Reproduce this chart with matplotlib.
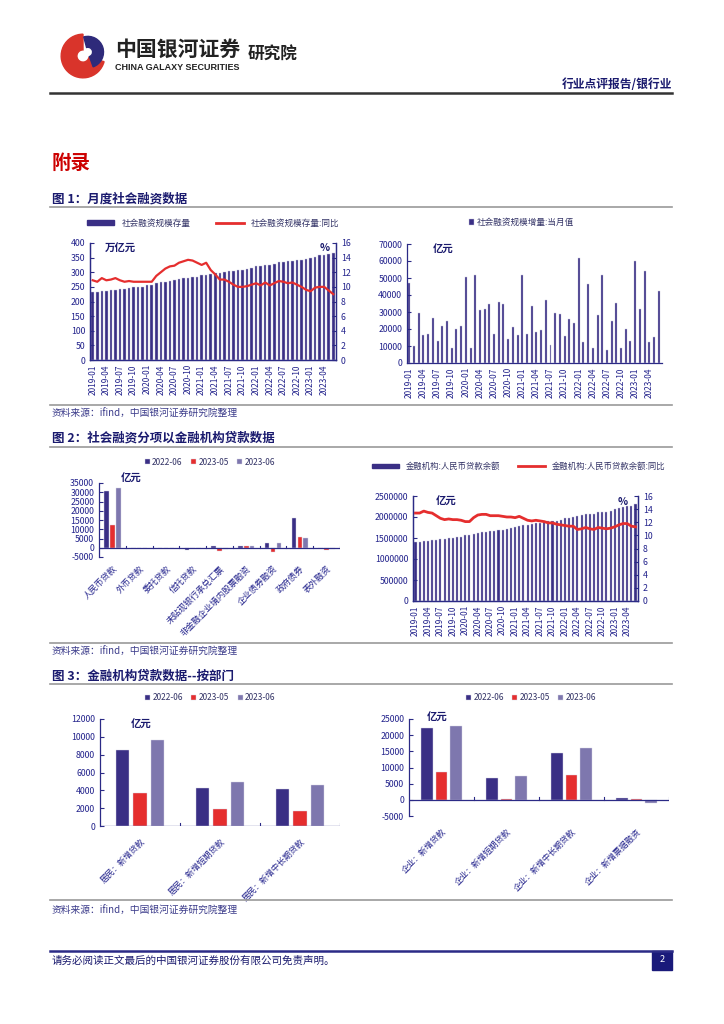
import numpy as np
import matplotlib
matplotlib.use('Agg')
import matplotlib.pyplot as plt
from matplotlib.patches import Rectangle, Wedge
from matplotlib.lines import Line2D

plt.rcParams['font.family'] = ['Noto Sans CJK SC', 'DejaVu Sans']
plt.rcParams['axes.unicode_minus'] = False

W, H = 724, 1024
NAVY = '#2B2A86'
DARK = '#3A2F85'
RED = '#E52E2E'
LILAC = '#7E77AE'
TXT = '#23238C'
TITLE = '#1A1A6E'

# ---------------- data ----------------
months = [f'{y}-{m:02d}' for y in range(2019, 2024) for m in range(1, 13)][:54]

# 社会融资规模存量 (万亿元) and 同比 (%)
sf_stock = [231, 233, 236, 237, 238, 241, 242, 244, 247, 248, 250, 251,
            256, 257, 262, 265, 268, 271, 273, 276, 279, 280, 283, 285,
            289, 290, 293, 296, 298, 302, 303, 304, 307, 308, 311, 314,
            320, 321, 325, 326, 328, 334, 335, 337, 340, 341, 343, 344,
            350, 352, 359, 360, 361, 365]
sf_yoy = [10.9, 10.7, 11.2, 10.9, 11.0, 11.2, 10.9, 10.7, 10.8, 10.7, 10.7, 10.7,
          10.7, 10.7, 11.5, 12.0, 12.5, 12.8, 12.9, 13.3, 13.5, 13.7, 13.6, 13.3,
          13.0, 13.3, 12.3, 11.7, 11.0, 11.0, 10.7, 10.3, 10.0, 10.0, 10.1, 10.3,
          10.5, 10.2, 10.6, 10.2, 10.5, 10.8, 10.7, 10.5, 10.6, 10.3, 10.0, 9.6,
          9.4, 9.9, 10.0, 10.0, 9.5, 9.0]

# 社会融资规模增量:当月值 (亿元)
sf_flow = [47000, 9800, 29700, 16600, 17200, 26200, 12700, 21900, 25000, 8600, 20000, 21900,
           50700, 8600, 51800, 31100, 31900, 34600, 16800, 36000, 34800, 13900, 21300, 16400,
           52000, 17100, 33700, 18500, 19500, 37000, 10600, 29700, 29000, 16000, 26000, 23500,
           61700, 12200, 46500, 9100, 28400, 52000, 7900, 24600, 35300, 9100, 19900, 13100,
           59800, 31600, 53900, 12200, 15500, 42300]

# 社融分项 (亿元)
cats2 = ['人民币贷款', '外币贷款', '委托贷款', '信托贷款', '未贴现银行承兑汇票',
         '非金融企业境内股票融资', '企业债券融资', '政府债券', '表外融资']
s2_2206 = [30500, -100, -70, -1000, 1200, 700, 2500, 16300, 40]
s2_2305 = [12300, -320, -30, -60, -2000, 900, -2100, 5600, -1100]
s2_2306 = [32400, -220, -250, -30, -750, 750, 2300, 5400, -650]

# 金融机构:人民币贷款余额 (亿元) and 同比 (%)
loan_bal = [1399000, 1408000, 1425000, 1435000, 1447000, 1463000, 1470000, 1482000, 1498000, 1505000, 1519000, 1531000,
            1564000, 1573000, 1602000, 1619000, 1634000, 1652000, 1662000, 1676000, 1695000, 1702000, 1716000, 1727000,
            1763000, 1776000, 1804000, 1818000, 1834000, 1856000, 1865000, 1877000, 1894000, 1902000, 1915000, 1927000,
            1967000, 1979000, 2010000, 2017000, 2036000, 2064000, 2071000, 2083000, 2108000, 2114000, 2126000, 2140000,
            2189000, 2208000, 2247000, 2254000, 2267000, 2302000]
loan_yoy = [13.4, 13.4, 13.7, 13.5, 13.4, 13.0, 12.6, 12.4, 12.5, 12.4, 12.4, 12.3,
            12.1, 12.1, 12.7, 13.1, 13.2, 13.2, 13.0, 13.0, 13.0, 12.9, 12.8, 12.8,
            12.7, 12.9, 12.6, 12.3, 12.2, 12.3, 12.2, 12.1, 11.9, 11.9, 11.7, 11.6,
            11.5, 11.4, 11.4, 10.9, 11.0, 11.2, 11.0, 10.9, 11.2, 11.1, 11.0, 11.1,
            11.3, 11.6, 11.8, 11.8, 11.4, 11.3]

# 按部门 (亿元)
cats3a = ['居民：新增贷款', '居民：新增短期贷款', '居民：新增中长期贷款']
h_2206 = [8500, 4300, 4200]
h_2305 = [3700, 1950, 1700]
h_2306 = [9600, 4900, 4650]

cats3b = ['企业：新增贷款', '企业：新增短期贷款', '企业：新增中长期贷款', '企业：新增票据融资']
c_2206 = [22100, 6850, 14400, 700]
c_2305 = [8500, 400, 7700, 400]
c_2306 = [22700, 7500, 16000, -900]

series_names = ['2022-06', '2023-05', '2023-06']

# ---------------- helpers ----------------
fig = plt.figure(figsize=(W / 100, H / 100), dpi=100)


def box(x0, y0, x1, y1):
    return fig.add_axes([x0 / W, 1 - y1 / H, (x1 - x0) / W, (y1 - y0) / H])


def put(x, y, s, **kw):
    kw.setdefault('va', 'center')
    fig.text(x / W, 1 - y / H, s, **kw)


def hline(y, x0=50, x1=672, color='#9A9A9A', lw=1.2):
    fig.add_artist(Line2D([x0 / W, x1 / W], [1 - y / H, 1 - y / H], color=color, lw=lw))


def style(ax, right=False):
    ax.spines['top'].set_visible(False)
    if not right:
        ax.spines['right'].set_visible(False)
    for sp in ax.spines.values():
        sp.set_color(NAVY)
        sp.set_linewidth(0.9)
    ax.tick_params(colors=TXT, labelsize=6.3, direction='in', length=3, color=NAVY, width=0.8)
    ax.set_facecolor('none')


def unit(ax, x, s, y=0.99):
    ax.text(x, y, s, transform=ax.transAxes, fontsize=7.5, fontweight='bold',
            color=TITLE, va='top')


# ---------------- header ----------------
logo = box(56, 32, 110, 80)
logo.set_xlim(-1.1, 1.1)
logo.set_ylim(-1.1, 1.1)
logo.set_aspect('equal')
logo.axis('off')
logo.add_patch(Wedge((0, 0), 1.0, 90, 345, width=0.72, color='#D9342B'))
logo.add_patch(Wedge((0.22, 0.18), 0.72, -70, 105, width=0.5, color='#2E2A7A'))

put(115, 49, '中国银河证券', fontsize=15, fontweight='bold', color='#222222')
put(115, 68, 'CHINA GALAXY SECURITIES', fontsize=6.5, fontweight='bold', color='#222222',
    family='Liberation Sans')
put(248, 55, '研究院', fontsize=12, fontweight='bold', color='#222222')
put(672, 84, '行业点评报告/银行业', fontsize=8.5, fontweight='bold', color=TITLE, ha='right')
hline(93, color='#333333', lw=1.8)

put(52, 163, '附录', fontsize=14, fontweight='bold', color='#CC0000')

# section titles / lines / sources
src = '资料来源：ifind，中国银河证券研究院整理'
put(52, 199, '图 1：月度社会融资数据', fontsize=9, fontweight='bold', color=TITLE)
hline(207)
hline(405)
put(52, 414, src, fontsize=7, color='#3B3B8A', style='italic')

put(52, 438, '图 2：社会融资分项以金融机构贷款数据', fontsize=9, fontweight='bold', color=TITLE)
hline(447)
hline(643)
put(52, 652, src, fontsize=7, color='#3B3B8A', style='italic')

put(52, 676, '图 3：金融机构贷款数据--按部门', fontsize=9, fontweight='bold', color=TITLE)
hline(684)
hline(900)
put(52, 911, src, fontsize=7, color='#3B3B8A', style='italic')

# footer
hline(951, color='#2B2A86', lw=1.8)
put(52, 961, '请务必阅读正文最后的中国银河证券股份有限公司免责声明。', fontsize=7.6, color=TITLE)
fig.add_artist(Rectangle((652 / W, 1 - 970 / H), 20 / W, 19 / H, color='#1A1A7A'))
put(662, 960, '2', fontsize=6.5, color='white', ha='center')

x = np.arange(len(months))

# ---------------- chart 1 left ----------------
ax = box(90, 243, 336, 360)
style(ax, right=True)
ax.bar(x, sf_stock, width=0.55, color=DARK, edgecolor='#C8C6DD', linewidth=0.3)
ax.set_xlim(-0.6, len(months) - 0.4)
ax.set_ylim(0, 400)
ax.set_yticks(range(0, 401, 50))
ax.set_xticks(x[::3])
ax.set_xticklabels(months[::3], rotation=90, fontsize=6)
ax.tick_params(axis='x', length=0, pad=3)
ax2 = ax.twinx()
style(ax2, right=True)
ax2.plot(x, sf_yoy, color=RED, lw=1.6)
ax2.set_ylim(0, 16)
ax2.set_yticks(range(0, 17, 2))
unit(ax, 0.06, '万亿元')
ax.text(0.955, 1.0, '%', transform=ax.transAxes, fontsize=7.5, fontweight='bold', color=TITLE, va='top', ha='center')
ax2.legend([Rectangle((0, 0), 1, 1, color=DARK), Line2D([], [], color=RED, lw=2)],
           ['社会融资规模存量', '社会融资规模存量:同比'], loc='center', bbox_to_anchor=(0.5, 1.17),
           ncol=2, frameon=False, fontsize=6.2, handlelength=3.2, handleheight=0.45,
           columnspacing=3.0, labelcolor='#333366')

# ---------------- chart 1 right ----------------
ax = box(407, 244, 662, 363)
style(ax)
ax.bar(x, sf_flow, width=0.42, color=DARK, edgecolor='#C8C6DD', linewidth=0.3, label='社会融资规模增量:当月值')
ax.set_xlim(-0.5, len(months) - 0.3)
ax.set_ylim(0, 70000)
ax.set_yticks(range(0, 70001, 10000))
ax.set_xticks(x[::3])
ax.set_xticklabels(months[::3], rotation=90, fontsize=6)
ax.tick_params(axis='x', length=0, pad=3)
unit(ax, 0.1, '亿元')
ax.legend(loc='center', bbox_to_anchor=(0.45, 1.18), frameon=False, fontsize=6.2,
          handlelength=0.6, handleheight=0.6, handletextpad=0.3, labelcolor='#333366')


def grouped(ax, cats, vals, width, step, rot_pad, fs):
    n = len(cats)
    pos = np.arange(n)
    cols = [DARK, RED, LILAC]
    for k, (v, c, name) in enumerate(zip(vals, cols, series_names)):
        ax.bar(pos + (k - 1) * step, v, width=width, color=c, edgecolor='#D8D6E6',
               linewidth=0.3, label=name)
    ax.set_xlim(-0.5, n - 0.5)
    ax.axhline(0, color=NAVY, lw=0.9)
    ax.spines['bottom'].set_visible(False)
    ax.set_xticks(pos)
    ax.set_xticklabels(cats, rotation=45, ha='right', va='top', rotation_mode='anchor', fontsize=fs)
    ax.tick_params(axis='x', length=0, pad=rot_pad)
    lo, hi = ax.get_ylim()
    for b in np.arange(0.5, n, 1.0):
        ax.plot([b, b], [0, (hi - lo) * 0.025], color=NAVY, lw=0.8)


def small_legend(ax, bx, by):
    ax.legend(loc='center', bbox_to_anchor=(bx, by), ncol=3, frameon=False, fontsize=6,
              handlelength=0.6, handleheight=0.6, handletextpad=0.3, columnspacing=1.0,
              labelcolor='#333366')


# ---------------- chart 2 left ----------------
ax = box(99, 483, 340, 557)
style(ax)
ax.set_ylim(-5000, 35000)
ax.set_yticks(range(-5000, 35001, 5000))
grouped(ax, cats2, [s2_2206, s2_2305, s2_2306], 0.17, 0.22, 5, 6.2)
unit(ax, 0.09, '亿元', y=1.12)
small_legend(ax, 0.46, 1.28)

# ---------------- chart 2 right ----------------
ax = box(413, 496, 638, 601)
style(ax, right=True)
ax.bar(x, loan_bal, width=0.5, color=DARK, edgecolor='#C8C6DD', linewidth=0.3)
ax.set_xlim(-0.6, len(months) - 0.4)
ax.set_ylim(0, 2500000)
yt = list(range(0, 2500001, 500000))
ax.set_yticks(yt)
ax.set_yticklabels([str(v) for v in yt])
ax.set_xticks(x[::3])
ax.set_xticklabels(months[::3], rotation=90, fontsize=6)
ax.tick_params(axis='x', length=0, pad=3)
ax2 = ax.twinx()
style(ax2, right=True)
ax2.plot(x, loan_yoy, color=RED, lw=2)
ax2.set_ylim(0, 16)
ax2.set_yticks(range(0, 17, 2))
unit(ax, 0.1, '亿元')
ax.text(0.93, 0.99, '%', transform=ax.transAxes, fontsize=7.5, fontweight='bold', color=TITLE, va='top', ha='center')
ax2.legend([Rectangle((0, 0), 1, 1, color=DARK), Line2D([], [], color=RED, lw=2)],
           ['金融机构:人民币贷款余额', '金融机构:人民币贷款余额:同比'], loc='center',
           bbox_to_anchor=(0.47, 1.28), ncol=2, frameon=False, fontsize=6.0, handlelength=3.2,
           handleheight=0.45, columnspacing=2.2, labelcolor='#333366')

# ---------------- chart 3 left ----------------
ax = box(100, 719, 340, 826)
style(ax)
ax.set_ylim(0, 12000)
ax.set_yticks(range(0, 12001, 2000))
grouped(ax, cats3a, [h_2206, h_2305, h_2306], 0.17, 0.22, 8, 6.0)
unit(ax, 0.13, '亿元')
small_legend(ax, 0.46, 1.2)

# ---------------- chart 3 right ----------------
ax = box(409, 719, 669, 816)
style(ax)
ax.set_ylim(-5000, 25000)
ax.set_yticks(range(-5000, 25001, 5000))
grouped(ax, cats3b, [c_2206, c_2305, c_2306], 0.18, 0.22, 8, 6.0)
unit(ax, 0.07, '亿元', y=1.06)
small_legend(ax, 0.47, 1.22)

fig.savefig('out.png', dpi=100)
